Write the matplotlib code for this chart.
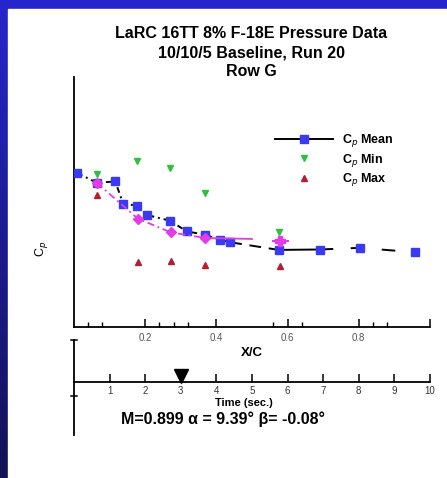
import matplotlib
matplotlib.use('Agg')
import matplotlib.pyplot as plt
import numpy as np
from matplotlib.lines import Line2D
from matplotlib.patches import Rectangle

plt.rcParams['font.family'] = ['Liberation Sans', 'DejaVu Sans']

W, H = 447, 478
DPI = 100

# ---------------- data ----------------
xc_mean = [0.009, 0.064, 0.116, 0.138, 0.176, 0.204, 0.270, 0.317, 0.368,
           0.410, 0.439, 0.575, 0.690, 0.803, 0.958]
cp_mean = [-0.510, -0.438, -0.448, -0.288, -0.274, -0.207, -0.165, -0.088,
           -0.065, -0.027, -0.010, 0.045, 0.042, 0.030, 0.062]
xc_min = [0.064, 0.176, 0.270, 0.368, 0.577]
cp_min = [-0.502, -0.598, -0.545, -0.367, -0.086]
xc_max = [0.064, 0.179, 0.272, 0.368, 0.580]
cp_max = [-0.350, 0.133, 0.128, 0.152, 0.162]
xc_unst = [0.064, 0.179, 0.272, 0.368, 0.50]
cp_unst = [-0.438, -0.181, -0.081, -0.041, -0.034]
xc_unst_pt = [0.58]
cp_unst_pt = [-0.022]
xc_major = [0.2, 0.4, 0.6, 0.8, 1.0]
xc_major_labels = ['0.2', '0.4', '0.6', '0.8', '']
xc_minor = [0.04, 0.08, 0.24, 0.28, 0.32, 0.56, 0.64, 0.84, 0.88]
time_ticks = [1, 2, 3, 4, 5, 6, 7, 8, 9, 10]
time_labels = ['1', '2', '3', '4', '5', '6', '7', '8', '9', '10']
current_time = [3.0]
title_lines = ['LaRC 16TT 8% F-18E Pressure Data', '10/10/5 Baseline, Run 20', 'Row G']
cond_text = 'M=0.899 \u03b1 = 9.39\u00b0 \u03b2= -0.08\u00b0'

# ---------------- figure & background ----------------
fig = plt.figure(figsize=(W / DPI, H / DPI), dpi=DPI)
bg = fig.add_axes([0, 0, 1, 1], zorder=-10)
bg.set_axis_off()
grad = np.linspace(0, 1, 256)[:, None]
top = np.array([38, 38, 205]) / 255
bot = np.array([18, 18, 85]) / 255
img = top[None, None, :] * (1 - grad[:, :, None]) + bot[None, None, :] * grad[:, :, None]
bg.imshow(img, aspect='auto', extent=[0, 1, 0, 1], origin='upper')
bg.add_patch(Rectangle((8 / W, 0), 1 - 8 / W, 1 - 9 / H, color='white'))
bg.set_xlim(0, 1)
bg.set_ylim(0, 1)

# ---------------- main axes ----------------
ax = fig.add_axes([74 / W, 1 - 327 / H, 356 / W, 250 / H])
ax.set_facecolor('none')
ax.set_xlim(0, 1)
ax.set_ylim(0.6, -1.2)
for s in ['top', 'right']:
    ax.spines[s].set_visible(False)
for s in ['left', 'bottom']:
    ax.spines[s].set_linewidth(1.3)
ax.set_yticks([])
ax.set_xticks(xc_major)
ax.set_xticklabels(xc_major_labels)
ax.set_xticks(xc_minor, minor=True)
ax.tick_params(axis='x', which='major', direction='in', length=6, width=1.1,
               labelsize=7, labelcolor='#555555', pad=4)
ax.tick_params(axis='x', which='minor', direction='in', length=3.5, width=1.0)

# mean line segments with varying styles
blue = '#3a3af2'
ax.plot(xc_mean[0:11], cp_mean[0:11], color='black', lw=1.4,
        linestyle=(0, (3, 2, 1, 2)), zorder=2)
ax.plot(xc_mean[10:12], cp_mean[10:12], color='black', lw=1.4,
        linestyle=(0, (6, 4)), zorder=2)
ax.plot(xc_mean[11:13], cp_mean[11:13], color='black', lw=1.4,
        linestyle='-', zorder=2)
ax.plot(xc_mean[12:15], cp_mean[12:15], color='black', lw=1.4,
        linestyle=(0, (7, 9)), zorder=2)
ax.plot(xc_mean, cp_mean, linestyle='none', marker='s', markersize=5.5,
        color=blue, zorder=4)

# unsteady (magenta)
mag = '#e43ce4'
ax.plot(xc_unst[0:4], cp_unst[0:4], color=mag, lw=1.3,
        linestyle=(0, (4, 2, 1, 2)), marker='D', markersize=5,
        markevery=[0, 1, 2, 3], zorder=5)
ax.plot(xc_unst[3:5], cp_unst[3:5], color=mag, lw=1.3, linestyle='-', zorder=5)
ax.errorbar(xc_unst_pt, cp_unst_pt, xerr=0.025, color=mag, marker='P',
            markersize=7, lw=1.5, capsize=0, zorder=5)

# min / max
ax.plot(xc_min, cp_min, linestyle='none', marker='v', markersize=5,
        color='#2fc040', zorder=3)
ax.plot(xc_max, cp_max, linestyle='none', marker='^', markersize=4,
        color='#b02030', zorder=3)

# legend
h_mean = Line2D([], [], color='black', lw=1.4, marker='s', markersize=5.5,
                markerfacecolor=blue, markeredgecolor=blue)
h_min = Line2D([], [], linestyle='none', marker='v', markersize=5, color='#2fc040')
h_max = Line2D([], [], linestyle='none', marker='^', markersize=4, color='#b02030')
leg = ax.legend([h_mean, h_min, h_max],
                ['C$_p$ Mean', 'C$_p$ Min', 'C$_p$ Max'],
                loc='upper left', bbox_to_anchor=((275 - 74) / 356, (327 - 132) / 250),
                frameon=False, handlelength=4.6, handletextpad=0.8,
                labelspacing=0.22, borderpad=0, borderaxespad=0,
                prop={'size': 9, 'weight': 'bold'})

# ---------------- time axis ----------------
axt = fig.add_axes([74 / W, 1 - 382 / H, 356 / W, 20 / H])
axt.set_facecolor('none')
axt.set_xlim(0, 10)
axt.set_ylim(0, 20)
for s in ['top', 'right', 'left']:
    axt.spines[s].set_visible(False)
axt.spines['bottom'].set_linewidth(1.3)
axt.set_yticks([])
axt.set_xticks(time_ticks)
axt.set_xticklabels(time_labels)
axt.tick_params(axis='x', direction='in', length=6, width=1.1, labelsize=7,
                labelcolor='#333333', pad=3)
axt.plot(current_time, [6], marker='v', markersize=10, color='black',
         linestyle='none', clip_on=False)

# left vertical line under plots
fig.add_artist(Line2D([74 / W, 74 / W], [1 - 340 / H, 1 - 435 / H],
                      transform=fig.transFigure, color='black', lw=1.3))
for yy in [340, 396]:
    fig.add_artist(Line2D([71 / W, 77 / W], [1 - yy / H, 1 - yy / H],
                          transform=fig.transFigure, color='black', lw=1.1))

# ---------------- texts ----------------
for i, line in enumerate(title_lines):
    fig.text(251 / W, 1 - (34 + 19 * i) / H, line, ha='center', va='center',
             fontsize=11.5, fontweight='bold')
fig.text(42 / W, 1 - 249 / H, 'C$_p$', rotation=90, ha='center', va='center',
         fontsize=9)
fig.text(252 / W, 1 - 353 / H, 'X/C', ha='center', va='center',
         fontsize=9.5, fontweight='bold')
fig.text(244 / W, 1 - 403 / H, 'Time (sec.)', ha='center', va='center',
         fontsize=8, fontweight='bold')
fig.text(223 / W, 1 - 419.5 / H, cond_text, ha='center', va='center',
         fontsize=11.5, fontweight='bold')

fig.savefig('out.png', dpi=DPI)
